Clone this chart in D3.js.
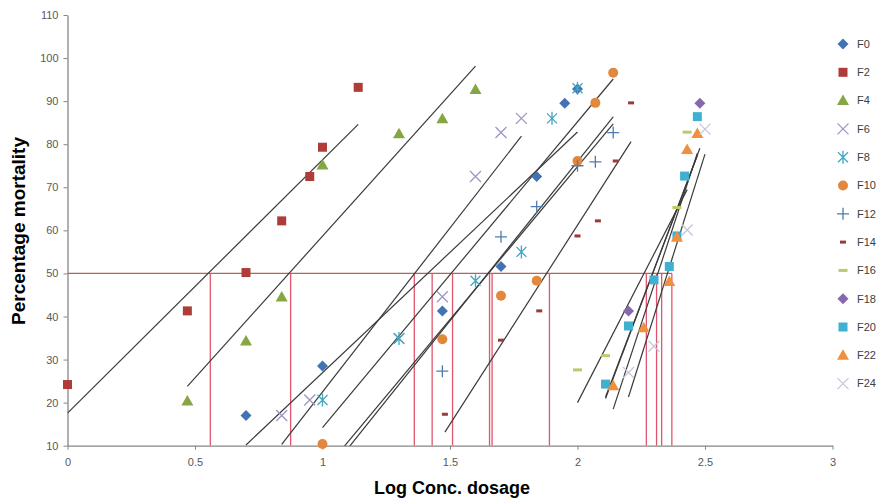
<!DOCTYPE html>
<html>
<head>
<meta charset="utf-8">
<script src="https://cdn.jsdelivr.net/npm/d3@7"></script>
<style>
  body { margin: 0; background: #fff; }
  svg { display: block; font-family: 'Liberation Sans', Arial, sans-serif; }
</style>
</head>
<body>
<div id="chart"></div>
<script>
// ---------------------------------------------------------------------------
// Data
// ---------------------------------------------------------------------------
const seriesNames = ['F0', 'F2', 'F4', 'F6', 'F8', 'F10', 'F12', 'F14', 'F16', 'F18', 'F20', 'F22', 'F24'];

// log concentration (x) per series
const seriesDose = [
  [0.70, 1.00, 1.47, 1.70, 1.84, 1.95, 2.00],
  [0.00, 0.47, 0.70, 0.84, 0.95, 1.00, 1.14],
  [0.47, 0.70, 0.84, 1.00, 1.30, 1.47, 1.60],
  [0.84, 0.95, 1.30, 1.47, 1.60, 1.70, 1.78],
  [1.00, 1.30, 1.60, 1.78, 1.90, 2.00],
  [1.00, 1.47, 1.70, 1.84, 2.00, 2.07, 2.14],
  [1.47, 1.70, 1.84, 2.00, 2.07, 2.14],
  [1.48, 1.70, 1.85, 2.00, 2.08, 2.15, 2.21],
  [2.00, 2.11, 2.39, 2.43],
  [2.20, 2.48],
  [2.11, 2.20, 2.30, 2.36, 2.39, 2.42, 2.47],
  [2.14, 2.26, 2.36, 2.39, 2.43, 2.47],
  [2.20, 2.30, 2.43, 2.50]
];

// percentage mortality (y) per series
const seriesMortality = [
  [17.0, 28.5, 41.3, 51.6, 72.5, 89.5, 92.8],
  [24.2, 41.3, 50.2, 62.2, 72.5, 79.3, 93.2],
  [20.4, 34.3, 44.5, 75.2, 82.4, 85.9, 92.7],
  [17.0, 20.6, 34.9, 44.6, 72.5, 82.7, 86.0],
  [20.6, 34.9, 48.3, 55.0, 86.0, 93.0],
  [10.4, 34.7, 44.8, 48.3, 76.1, 89.6, 96.6],
  [27.3, 58.5, 65.5, 75.0, 75.9, 82.7],
  [17.3, 34.5, 41.3, 58.7, 62.2, 76.1, 89.6],
  [27.6, 30.9, 65.3, 82.8],
  [41.3, 89.5],
  [24.3, 37.8, 48.5, 51.6, 58.7, 72.6, 86.4],
  [23.9, 37.4, 48.1, 58.4, 78.8, 82.5],
  [27.0, 33.1, 60.1, 83.5]
];

// linear trend lines: y = slope * x + intercept, drawn from trendFrom to trendTo
const trendFrom      = [0.70, 0.00, 0.47, 0.84, 1.00, 1.00, 1.00, 1.48, 2.00, 2.11, 2.11, 2.14, 2.20];
const trendTo        = [2.00, 1.14, 1.60, 1.78, 2.14, 2.14, 2.14, 2.21, 2.43, 2.48, 2.47, 2.47, 2.50];
const trendSlope     = [55.9, 58.8, 65.8, 76.1, 71.0, 74.0, 71.0, 92.4, 115.0, 157.0, 155.7, 180.0, 188.0];
const trendIntercept = [-28.96, 17.57, -7.15, -53.6, -56.8, -72.0, -67.2, -123.6, -210.0, -310.3, -307.2, -366.7, -392.3];

// LC50 read-off lines (x where mortality = 50)
const lc50Level = 50;
const lc50Dose = [0.56, 0.875, 1.36, 1.43, 1.51, 1.655, 1.665, 1.89, 2.27, 2.31, 2.33, 2.37];

const xTicks = [0, 0.5, 1, 1.5, 2, 2.5, 3];
const yTicks = [10, 20, 30, 40, 50, 60, 70, 80, 90, 100, 110];

// ---------------------------------------------------------------------------
// Styles
// ---------------------------------------------------------------------------
const seriesStyle = [
  { marker: 'diamond',  color: '#4373b3' },
  { marker: 'square',   color: '#b03c3a' },
  { marker: 'triangle', color: '#86a644' },
  { marker: 'x',        color: '#9d96c6' },
  { marker: 'asterisk', color: '#41a6c0' },
  { marker: 'circle',   color: '#e3873c' },
  { marker: 'plus',     color: '#4f7cb0' },
  { marker: 'dash',     color: '#9a3b3a' },
  { marker: 'wdash',    color: '#b9cc6a' },
  { marker: 'diamond',  color: '#8768ad' },
  { marker: 'square',   color: '#3fb0d0' },
  { marker: 'triangle', color: '#f0903e' },
  { marker: 'x',        color: '#c6c6da' }
];

const W = 883, H = 503;
const plot = { left: 67.5, right: 832.5, top: 15, bottom: 445.7 };

const svg = d3.select('#chart').append('svg')
  .attr('width', W)
  .attr('height', H);

const x = d3.scaleLinear().domain([0, 3]).range([plot.left, plot.right]);
const y = d3.scaleLinear().domain([10, 110]).range([plot.bottom, plot.top]);

svg.append('defs').append('clipPath').attr('id', 'plotClip')
  .append('rect')
  .attr('x', plot.left).attr('y', plot.top)
  .attr('width', plot.right - plot.left).attr('height', plot.bottom - plot.top);

// Axes
const axisColor = '#868686';
const xAxis = svg.append('g')
  .attr('transform', `translate(0,${plot.bottom})`)
  .call(d3.axisBottom(x).tickValues(xTicks).tickSize(4).tickSizeOuter(0).tickFormat(d3.format('')));
const yAxis = svg.append('g')
  .attr('transform', `translate(${plot.left},0)`)
  .call(d3.axisLeft(y).tickValues(yTicks).tickSize(4).tickSizeOuter(0));

[xAxis, yAxis].forEach(a => {
  a.select('.domain').attr('stroke', axisColor).attr('stroke-width', 1.3);
  a.selectAll('.tick line').attr('stroke', axisColor);
  a.selectAll('.tick text')
    .attr('fill', '#595959')
    .attr('font-size', '11px')
    .attr('font-family', "'Liberation Sans', Arial, sans-serif");
});
xAxis.selectAll('.tick text').attr('dy', '1.25em');
yAxis.selectAll('.tick text').attr('x', -9);

// Axis titles
svg.append('text')
  .attr('x', 452)
  .attr('y', 494)
  .attr('text-anchor', 'middle')
  .attr('font-size', '18px')
  .attr('font-weight', 'bold')
  .attr('fill', '#000')
  .text('Log Conc. dosage');

svg.append('text')
  .attr('transform', 'rotate(-90)')
  .attr('x', -231)
  .attr('y', 25)
  .attr('text-anchor', 'middle')
  .attr('font-size', '19px')
  .attr('font-weight', 'bold')
  .attr('fill', '#000')
  .text('Percentage mortality');

// LC50 guide lines
const guides = svg.append('g').attr('clip-path', 'url(#plotClip)');
guides.append('line')
  .attr('x1', x(0)).attr('x2', x(d3.max(lc50Dose)))
  .attr('y1', y(lc50Level)).attr('y2', y(lc50Level))
  .attr('stroke', '#b9605a').attr('stroke-width', 1.3);
guides.selectAll('.lc50')
  .data(lc50Dose)
  .join('line')
  .attr('class', 'lc50')
  .attr('x1', d => x(d)).attr('x2', d => x(d))
  .attr('y1', y(lc50Level)).attr('y2', plot.bottom)
  .attr('stroke', '#e0566c').attr('stroke-width', 1.3);

// Trend lines
const trends = seriesNames.map((name, i) => ({
  x0: trendFrom[i], x1: trendTo[i],
  y0: trendSlope[i] * trendFrom[i] + trendIntercept[i],
  y1: trendSlope[i] * trendTo[i] + trendIntercept[i]
}));
svg.append('g').attr('clip-path', 'url(#plotClip)')
  .selectAll('line')
  .data(trends)
  .join('line')
  .attr('x1', d => x(d.x0)).attr('y1', d => y(d.y0))
  .attr('x2', d => x(d.x1)).attr('y2', d => y(d.y1))
  .attr('stroke', '#3a3a3a').attr('stroke-width', 1.2);

// Marker drawing
function drawMarker(g, type, color) {
  switch (type) {
    case 'diamond':
      g.append('path').attr('d', 'M0,-5.5L5.5,0L0,5.5L-5.5,0Z').attr('fill', color);
      break;
    case 'square':
      g.append('rect').attr('x', -4.5).attr('y', -4.5).attr('width', 9).attr('height', 9).attr('fill', color);
      break;
    case 'triangle':
      g.append('path').attr('d', 'M0,-6L6,4.5L-6,4.5Z').attr('fill', color);
      break;
    case 'circle':
      g.append('circle').attr('r', 5).attr('fill', color);
      break;
    case 'x':
      g.append('path').attr('d', 'M-5.5,-5.5L5.5,5.5M-5.5,5.5L5.5,-5.5')
        .attr('stroke', color).attr('stroke-width', 1.3).attr('fill', 'none');
      break;
    case 'asterisk':
      g.append('path').attr('d', 'M-5,-5L5,5M-5,5L5,-5M0,-6.5L0,6.5')
        .attr('stroke', color).attr('stroke-width', 1.3).attr('fill', 'none');
      break;
    case 'plus':
      g.append('path').attr('d', 'M-6,0L6,0M0,-6L0,6')
        .attr('stroke', color).attr('stroke-width', 1.3).attr('fill', 'none');
      break;
    case 'dash':
      g.append('rect').attr('x', -3).attr('y', -1.5).attr('width', 6).attr('height', 3).attr('fill', color);
      break;
    case 'wdash':
      g.append('rect').attr('x', -4.5).attr('y', -1.5).attr('width', 9).attr('height', 3).attr('fill', color);
      break;
  }
}

// Points
const pointsLayer = svg.append('g');
seriesNames.forEach((name, i) => {
  const pts = seriesDose[i].map((d, j) => ({ dose: d, mort: seriesMortality[i][j] }));
  pts.forEach(p => {
    const g = pointsLayer.append('g')
      .attr('transform', `translate(${x(p.dose)},${y(p.mort)})`);
    drawMarker(g, seriesStyle[i].marker, seriesStyle[i].color);
  });
});

// Legend
const legend = svg.append('g');
seriesNames.forEach((name, i) => {
  const ly = 44 + i * 28.3;
  const lg = legend.append('g').attr('transform', `translate(843,${ly})`);
  drawMarker(lg, seriesStyle[i].marker, seriesStyle[i].color);
  legend.append('text')
    .attr('x', 857)
    .attr('y', ly)
    .attr('dy', '0.35em')
    .attr('font-size', '11px')
    .attr('fill', '#404040')
    .text(name);
});
</script>
</body>
</html>
